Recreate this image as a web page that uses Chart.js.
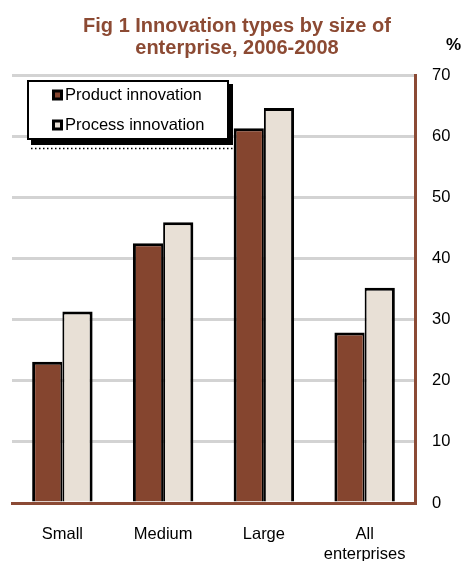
<!DOCTYPE html>
<html>
<head>
<meta charset="utf-8">
<title>Innovation types by size of enterprise</title>
<style>
  html, body { margin: 0; padding: 0; background: #ffffff; }
  #wrap { width: 465px; height: 561px; }
</style>
<script src="https://cdn.jsdelivr.net/npm/chart.js@4/dist/chart.umd.min.js"></script>
</head>
<body>
<div id="wrap"><canvas id="chart" width="465" height="561"></canvas></div>
<script>
// Share of enterprises (%) introducing each innovation type, 2006-2008
const categories = ['Small', 'Medium', 'Large', ['All', 'enterprises']];
const productInnovation = [23.1, 42.5, 61.3, 27.9];
const processInnovation = [31.3, 45.9, 64.6, 35.2];
const seriesNames = ['Product innovation', 'Process innovation'];
const titleLines = ['Fig 1 Innovation types by size of', 'enterprise, 2006-2008'];
const axisUnit = '%';
const yMin = 0, yMax = 70, yStep = 10;

const FONT = '"Liberation Sans", Arial, Helvetica, sans-serif';
const BROWN = '#8B4A35';
const PRODUCT_FILL = '#85452F';
const PROCESS_FILL = '#E8E0D6';
const TITLE_COLOR = '#8C4A33';

// Title and unit label above the plot
const titlePlugin = {
  id: 'figTitle',
  afterDraw(chart) {
    const ctx = chart.ctx;
    ctx.save();
    ctx.fillStyle = TITLE_COLOR;
    ctx.font = 'bold 20px ' + FONT;
    ctx.textAlign = 'center';
    ctx.textBaseline = 'alphabetic';
    ctx.fillText(titleLines[0], 237, 32);
    ctx.fillText(titleLines[1], 237, 54);
    ctx.fillStyle = '#000000';
    ctx.font = 'bold 17px ' + FONT;
    ctx.textAlign = 'left';
    ctx.fillText(axisUnit, 446, 50);
    ctx.restore();
  }
};

// Boxed legend with drop shadow inside the plot area
const boxLegendPlugin = {
  id: 'boxLegend',
  afterDatasetsDraw(chart) {
    const ctx = chart.ctx;
    const x = 27, y = 80, w = 202, h = 60;
    ctx.save();
    // shadow
    ctx.fillStyle = '#000000';
    ctx.fillRect(x + 4, y + 4, w, h + 1);
    ctx.strokeStyle = '#000000';
    ctx.lineWidth = 1.5;
    ctx.setLineDash([1.5, 2.5]);
    ctx.beginPath();
    ctx.moveTo(x + 4, y + h + 8.5);
    ctx.lineTo(x + w + 4, y + h + 8.5);
    ctx.stroke();
    ctx.setLineDash([]);
    // box
    ctx.fillStyle = '#ffffff';
    ctx.fillRect(x, y, w, h);
    ctx.lineWidth = 2;
    ctx.strokeRect(x + 1, y + 1, w - 2, h - 2);
    // entries
    ctx.font = '16.5px ' + FONT;
    ctx.textBaseline = 'middle';
    ctx.textAlign = 'left';
    chart.data.datasets.forEach((ds, i) => {
      const cy = 95 + i * 30;
      ctx.fillStyle = '#000000';
      ctx.fillRect(52, cy - 5.5, 11, 11);
      ctx.fillStyle = ds.backgroundColor;
      ctx.fillRect(55, cy - 2.5, 5, 5);
      ctx.fillStyle = '#000000';
      ctx.fillText(ds.label, 65, cy);
    });
    ctx.restore();
  }
};

new Chart(document.getElementById('chart'), {
  type: 'bar',
  data: {
    labels: categories,
    datasets: [
      {
        label: seriesNames[0],
        data: productInnovation,
        backgroundColor: PRODUCT_FILL,
        borderColor: '#000000',
        borderWidth: { top: 3, left: 3, right: 2, bottom: 0 },
        borderSkipped: 'bottom'
      },
      {
        label: seriesNames[1],
        data: processInnovation,
        backgroundColor: PROCESS_FILL,
        borderColor: '#000000',
        borderWidth: { top: 3, left: 2, right: 3, bottom: 0 },
        borderSkipped: 'bottom'
      }
    ]
  },
  options: {
    responsive: false,
    animation: false,
    devicePixelRatio: 1,
    layout: { padding: { left: 12, top: 75, right: 0, bottom: 0 } },
    datasets: { bar: { categoryPercentage: 0.6, barPercentage: 1.0 } },
    plugins: {
      legend: { display: false },
      title: { display: false },
      tooltip: { enabled: false }
    },
    scales: {
      x: {
        grid: { display: false, drawTicks: false },
        border: { display: true, color: BROWN, width: 3 },
        ticks: {
          color: '#000000',
          font: { family: FONT, size: 16.5, lineHeight: 1.2 },
          padding: 22,
          maxRotation: 0,
          autoSkip: false
        },
        afterFit(scale) { scale.height = 58; }
      },
      y: {
        position: 'right',
        min: yMin,
        max: yMax,
        grid: {
          drawTicks: false,
          lineWidth: 3,
          color: (c) => (c.tick && c.tick.value === 0 ? 'rgba(0,0,0,0)' : '#D3D3D3')
        },
        border: { display: true, color: BROWN, width: 3 },
        ticks: {
          stepSize: yStep,
          color: '#000000',
          padding: 17,
          font: { family: FONT, size: 16.5 }
        },
        afterFit(scale) { scale.width = 50; }
      }
    }
  },
  plugins: [titlePlugin, boxLegendPlugin]
});
</script>
</body>
</html>
